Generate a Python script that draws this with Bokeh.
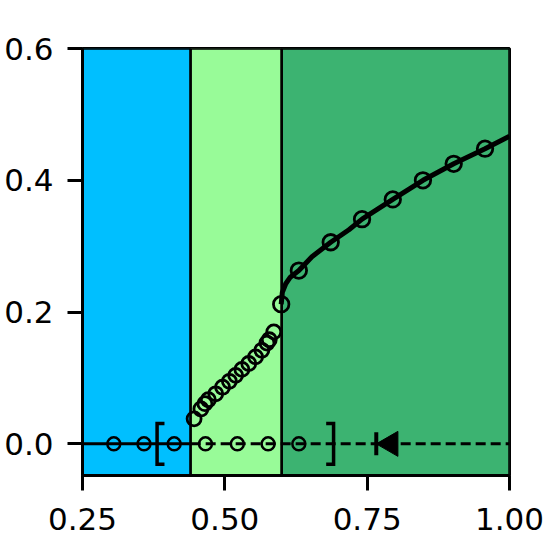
from bokeh.plotting import figure
from bokeh.models import FixedTicker, Range1d
from bokeh.embed import file_html
from bokeh.resources import INLINE
import math

# ---- data ----
region_edges = [0.25, 0.44, 0.60, 1.00]
region_colors = ["#00BFFF", "#98FB98", "#3CB371"]

# circles on the steep middle part
mid_x = [0.446, 0.458, 0.465, 0.471, 0.484, 0.496, 0.508, 0.519, 0.530, 0.542, 0.554, 0.565, 0.574, 0.578, 0.586]
mid_y = [0.038, 0.053, 0.061, 0.067, 0.076, 0.086, 0.095, 0.104, 0.113, 0.122, 0.132, 0.142, 0.153, 0.158, 0.170]

# curve (line) and its markers
curve_x = [0.599, 0.601, 0.607, 0.615, 0.630, 0.653, 0.686, 0.718, 0.741, 0.795, 0.848, 0.902, 0.957, 1.000]
curve_y = [0.212, 0.230, 0.243, 0.253, 0.263, 0.284, 0.306, 0.325, 0.341, 0.371, 0.400, 0.425, 0.448, 0.467]
curve_mx = [0.599, 0.630, 0.686, 0.741, 0.795, 0.848, 0.902, 0.957]
curve_my = [0.212, 0.263, 0.306, 0.341, 0.371, 0.400, 0.425, 0.448]

# baseline at y = 0
base_y = 0.0
base_solid = [0.25, 0.44]
base_dashed = [0.44, 1.00]
base_circles_x = [0.305, 0.358, 0.411, 0.466, 0.522, 0.576, 0.630]
bracket_left = 0.381
bracket_right = 0.691
arrow_x = 0.766

x_ticks = [0.25, 0.50, 0.75, 1.00]
x_tick_labels = ["0.25", "0.50", "0.75", "1.00"]
y_ticks = [0.0, 0.2, 0.4, 0.6]
y_tick_labels = ["0.0", "0.2", "0.4", "0.6"]
x_lim = (0.25, 1.00)
y_lim = (-0.048, 0.60)

# ---- figure ----
p = figure(width=547, height=547, output_backend="svg", toolbar_location=None,
           x_range=Range1d(*x_lim), y_range=Range1d(*y_lim),
           min_border_left=82, min_border_right=38, min_border_top=48, min_border_bottom=72)
p.background_fill_color = "white"
p.border_fill_color = "white"
p.xgrid.visible = False
p.ygrid.visible = False
p.outline_line_color = "black"
p.outline_line_width = 3

# regions
p.quad(left=region_edges[:-1], right=region_edges[1:],
       bottom=[y_lim[0]] * 3, top=[y_lim[1]] * 3,
       fill_color=region_colors, line_color="black", line_width=2.5)

# baseline
p.line(base_solid, [base_y, base_y], line_color="black", line_width=3)
p.line(base_dashed, [base_y, base_y], line_color="black", line_width=3, line_dash="10 5")
p.scatter(base_circles_x, [base_y] * len(base_circles_x), marker="circle", size=13,
          fill_alpha=0, line_color="black", line_width=2.5)

# brackets
bh = 0.031  # half height in data units
bw = 0.013  # cap width in data units
p.multi_line(xs=[[bracket_left + bw, bracket_left, bracket_left, bracket_left + bw],
                 [bracket_right - bw, bracket_right, bracket_right, bracket_right - bw]],
             ys=[[base_y + bh, base_y + bh, base_y - bh, base_y - bh]] * 2,
             line_color="black", line_width=3.5, line_join="miter")

# arrow marker: bar + left-pointing triangle
p.scatter([arrow_x], [base_y], marker="dash", angle=math.pi / 2, size=23,
          line_color="black", line_width=4)
p.scatter([arrow_x + 0.0253], [base_y], marker="triangle", angle=math.pi / 2, size=25,
          fill_color="black", line_color="black", line_width=1)

# middle circles
p.scatter(mid_x, mid_y, marker="circle", size=14, fill_alpha=0,
          line_color="black", line_width=2.8)

# curve
p.line(curve_x, curve_y, line_color="black", line_width=5)
p.scatter(curve_mx, curve_my, marker="circle", size=15.5, fill_alpha=0,
          line_color="black", line_width=2.8)

# axes
for ax, ticks, labels in ((p.xaxis[0], x_ticks, x_tick_labels), (p.yaxis[0], y_ticks, y_tick_labels)):
    ax.ticker = FixedTicker(ticks=ticks)
    ax.major_label_overrides = {t: l for t, l in zip(ticks, labels)}
    ax.minor_tick_line_color = None
    ax.major_tick_out = 15
    ax.major_tick_in = 0
    ax.major_tick_line_width = 3
    ax.axis_line_width = 3
    ax.major_label_text_font = "DejaVu Sans"
    ax.major_label_text_font_size = "31px"
    ax.major_label_text_color = "black"
p.xaxis.major_label_standoff = 17
p.yaxis.major_label_standoff = 14

open("out.html", "w").write(file_html(p, INLINE))
